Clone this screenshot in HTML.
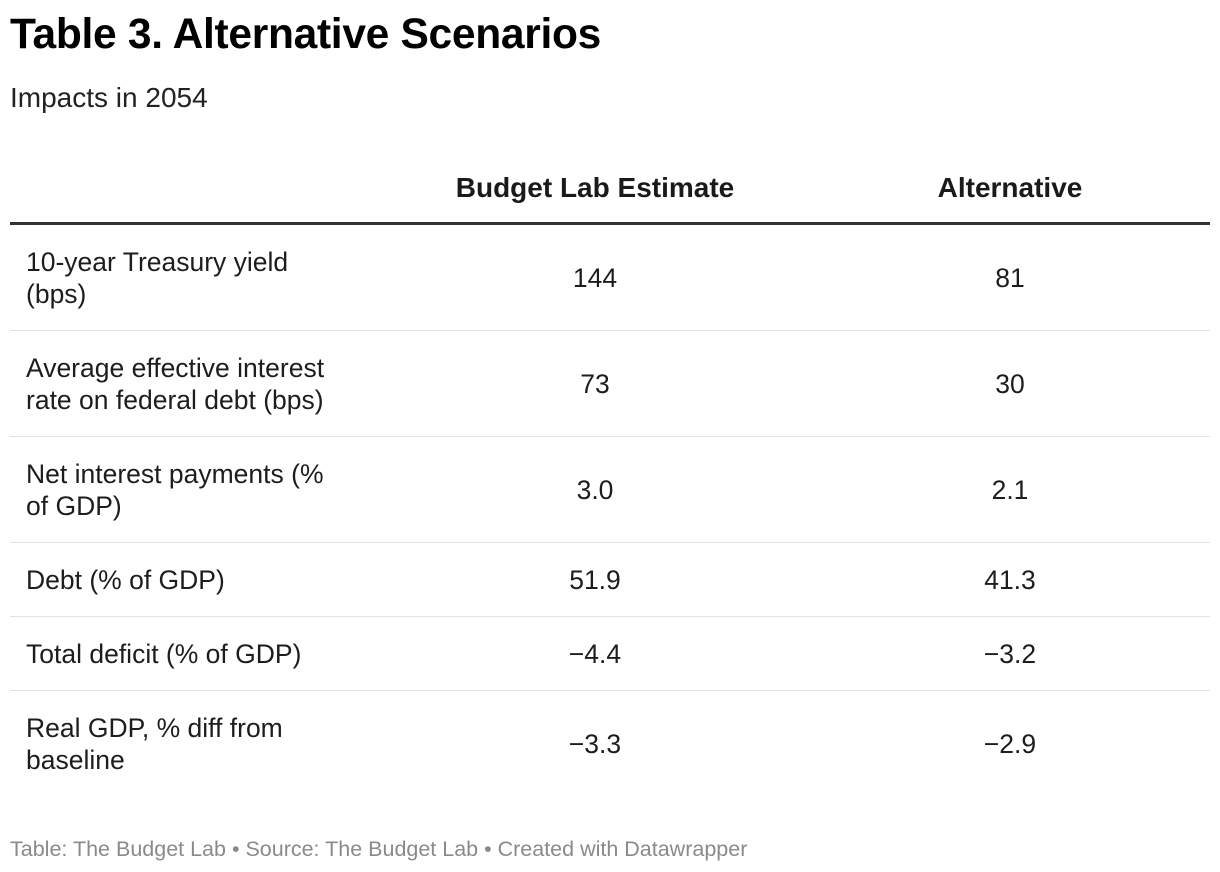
<!DOCTYPE html>
<html><head><meta charset="utf-8">
<style>
body{margin:0;width:1220px;height:872px;background:#fff;font-family:"Liberation Sans",sans-serif;color:#1d1d1d;position:relative;overflow:hidden}
.a{position:absolute;white-space:nowrap}
.title{left:10px;top:11px;font-size:42.5px;font-weight:bold;color:#000;letter-spacing:-0.3px}
.sub{left:10px;top:82px;font-size:28px;color:#222}
.hd{top:172px;font-size:28px;font-weight:bold;text-align:center;width:400px;color:#1a1a1a}
.lbl{left:26px;width:360px;font-size:26.5px;line-height:32px}
.v{font-size:26.5px;text-align:center;width:300px;line-height:32px}
.sep{left:10px;width:1200px;height:1px;background:#e2e2e2}
.foot{left:10px;top:837px;font-size:21.5px;color:#8a8a8a}
</style></head><body>
<div class="a title">Table 3. Alternative Scenarios</div>
<div class="a sub">Impacts in 2054</div>
<div class="a hd" style="left:395px">Budget Lab Estimate</div>
<div class="a hd" style="left:810px">Alternative</div>
<div class="a" style="left:10px;top:222px;width:1200px;height:3px;background:#333"></div>

<div class="a lbl" style="top:246px">10-year Treasury yield<br>(bps)</div>
<div class="a v" style="left:445px;top:262px">144</div>
<div class="a v" style="left:860px;top:262px">81</div>
<div class="a sep" style="top:330px"></div>

<div class="a lbl" style="top:352px">Average effective interest<br>rate on federal debt (bps)</div>
<div class="a v" style="left:445px;top:368px">73</div>
<div class="a v" style="left:860px;top:368px">30</div>
<div class="a sep" style="top:436px"></div>

<div class="a lbl" style="top:458px">Net interest payments (%<br>of GDP)</div>
<div class="a v" style="left:445px;top:474px">3.0</div>
<div class="a v" style="left:860px;top:474px">2.1</div>
<div class="a sep" style="top:542px"></div>

<div class="a lbl" style="top:564px">Debt (% of GDP)</div>
<div class="a v" style="left:445px;top:564px">51.9</div>
<div class="a v" style="left:860px;top:564px">41.3</div>
<div class="a sep" style="top:616px"></div>

<div class="a lbl" style="top:638px">Total deficit (% of GDP)</div>
<div class="a v" style="left:445px;top:638px">−4.4</div>
<div class="a v" style="left:860px;top:638px">−3.2</div>
<div class="a sep" style="top:690px"></div>

<div class="a lbl" style="top:712px">Real GDP, % diff from<br>baseline</div>
<div class="a v" style="left:445px;top:728px">−3.3</div>
<div class="a v" style="left:860px;top:728px">−2.9</div>

<div class="a foot">Table: The Budget Lab • Source: The Budget Lab • Created with Datawrapper</div>
</body></html>
